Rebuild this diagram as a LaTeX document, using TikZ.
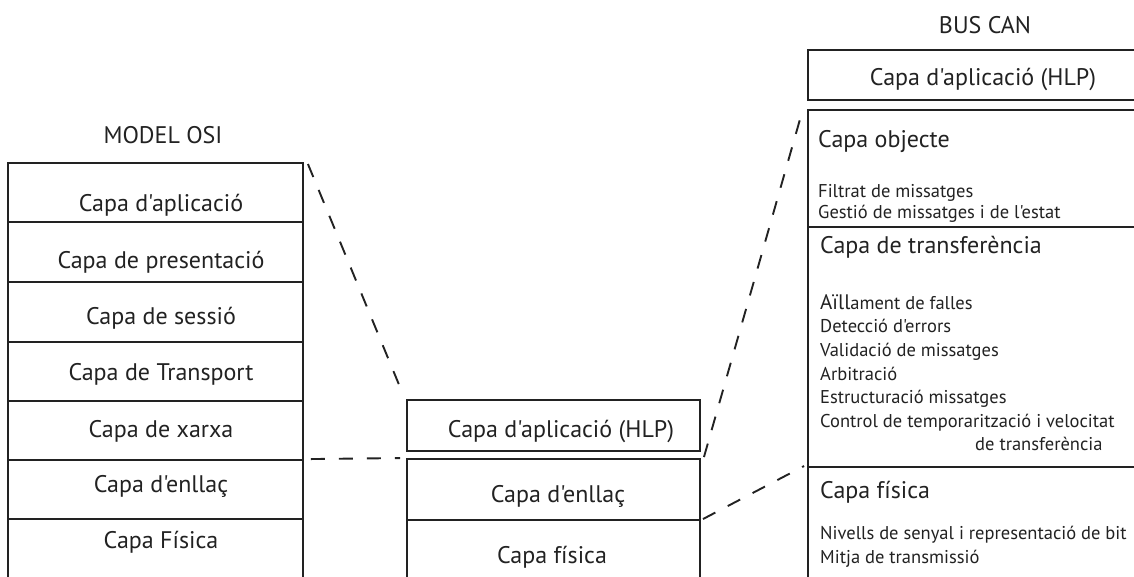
\documentclass[tikz,border=0pt]{standalone}
\usepackage{fontspec}
\setmainfont{PT Sans}[Ligatures=TeXOff]
\usetikzlibrary{calc}
\definecolor{ink}{HTML}{222222}
\tikzset{
  box/.style={draw=ink, line width=1.9pt, inner sep=0pt, rectangle},
  big/.style={text=ink, inner sep=0pt, font=\fontsize{24}{28}\selectfont},
  small/.style={text=ink, inner sep=0pt, anchor=base west, font=\fontsize{18.5}{22}\selectfont},
  link/.style={draw=ink, line width=1.9pt, dash pattern=on 14pt off 14pt},
}
\begin{document}
\begin{tikzpicture}[x=1pt,y=-1pt]
\useasboundingbox (0,0) rectangle (1134,576);
\fill[white] (0,0) rectangle (1134,576);
\begin{scope}
\clip (0,0) rectangle (1134,576);
% ---- OSI model
\node[big, anchor=base] (tosi) at (163,143) {MODEL OSI};
\node[box, minimum width=295pt, minimum height=59pt] (o1) at (155.5,192.5) {};
\node[box, minimum width=295pt, minimum height=60pt] (o2) at (155.5,252) {};
\node[box, minimum width=295pt, minimum height=60pt] (o3) at (155.5,312) {};
\node[box, minimum width=295pt, minimum height=59pt] (o4) at (155.5,371.5) {};
\node[box, minimum width=295pt, minimum height=59pt] (o5) at (155.5,430.5) {};
\node[box, minimum width=295pt, minimum height=59pt] (o6) at (155.5,489.5) {};
\node[box, minimum width=295pt, minimum height=80pt] (o7) at (155.5,559) {};
\node[big, anchor=base] at (161,211) {Capa d'aplicació};
\node[big, anchor=base] at (161,268) {Capa de presentació};
\node[big, anchor=base] at (161,324) {Capa de sessió};
\node[big, anchor=base] at (161,380) {Capa de Transport};
\node[big, anchor=base] at (161,437) {Capa de xarxa};
\node[big, anchor=base] at (161,492) {Capa d'enllaç};
\node[big, anchor=base] at (161,548) {Capa Física};
% ---- middle stack
\node[box, minimum width=293pt, minimum height=51pt] (mh) at (553.5,425.5) {};
\node[box, minimum width=293pt, minimum height=61pt] (ml) at (553.5,489.5) {};
\node[box, minimum width=293pt, minimum height=70pt] (mp) at (553.5,555) {};
\node[big, anchor=base] at (561,437) {Capa d'aplicació (HLP)};
\node[big, anchor=base] at (558,502) {Capa d'enllaç};
\node[big, anchor=base] at (552,563) {Capa física};
% ---- CAN bus stack
\node[big, anchor=base] (tcan) at (985,33) {BUS CAN};
\node[box, minimum width=340pt, minimum height=50pt] (rh) at (978,75) {};
\node[box, minimum width=340pt, minimum height=117pt] (ro) at (978,168.5) {};
\node[box, minimum width=340pt, minimum height=240pt] (rt) at (978,347) {};
\node[box, minimum width=340pt, minimum height=130pt] (rp) at (978,532) {};
\node[big, anchor=base] at (983,85) {Capa d'aplicació (HLP)};
\node[big, anchor=base west] at (818,147) {Capa objecte};
\node[small] at (818,197) {Filtrat de missatges};
\node[small] at (818,218) {Gestió de missatges i de l'estat};
\node[big, anchor=base west] at (820,253) {Capa de transferència};
\node[small] at (820,309) {{\fontsize{21}{23}\selectfont Aïll}ament de falles};
\node[small] at (820,332) {Detecció d'errors};
\node[small] at (820,356) {Validació de missatges};
\node[small] at (820,380) {Arbitració};
\node[small] at (820,403) {Estructuració missatges};
\node[small] at (820,427) {Control de temporarització i velocitat};
\node[small] at (975,450) {de transferència};
\node[big, anchor=base west] at (820,498) {Capa física};
\node[small] at (820,539) {Nivells de senyal i representació de bit};
\node[small] at (820,563) {Mitja de transmissió};
% ---- connectors
\draw[link] ($(o1.north east)+(4,2)$) -- ($(mh.north west)+(-4,-7)$);
\draw[link] ($(o6.north east)+(7,0)$) -- ($(ml.north west)+(-6,0)$);
\draw[link] ($(ml.north east)+(3,-1)$) -- ($(ro.north west)+(-5,3)$);
\draw[link] ($(mp.north east)+(2,0)$) -- ($(rp.north west)+(-3,0)$);
\end{scope}
\end{tikzpicture}
\end{document}
